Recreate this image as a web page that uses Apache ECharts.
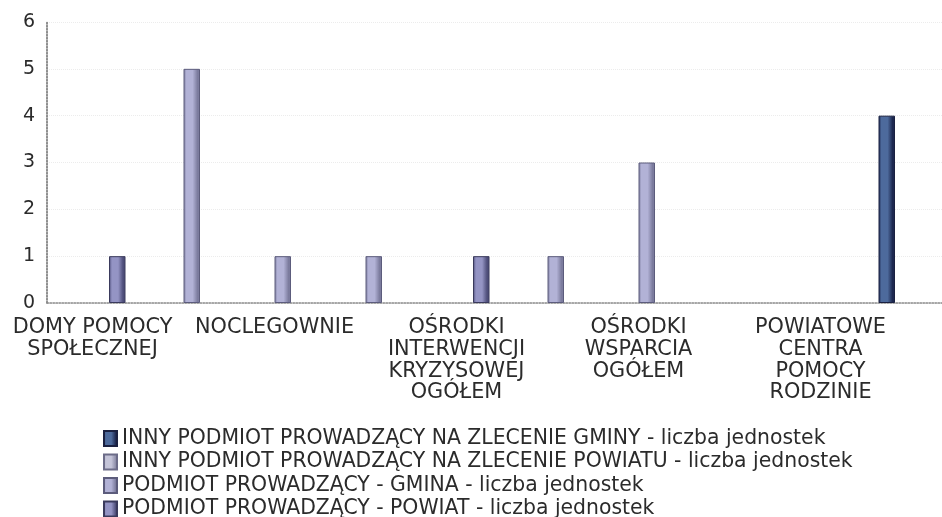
<!DOCTYPE html>
<html>
<head>
<meta charset="utf-8">
<script src="https://cdn.jsdelivr.net/npm/echarts@6/dist/echarts.min.js"></script>
<style>
  html, body { margin: 0; padding: 0; background: #ffffff; }
  #chart { width: 942px; height: 517px; }
</style>
</head>
<body>
<div id="chart"></div>
<script>
// Category slots along the x axis; only every other slot carries a caption.
const categories = [
  'DOMY POMOCY\nSPOŁECZNEJ', '',
  'NOCLEGOWNIE', '',
  'OŚRODKI\nINTERWENCJI\nKRYZYSOWEJ\nOGÓŁEM', '',
  'OŚRODKI\nWSPARCIA\nOGÓŁEM', '',
  'POWIATOWE\nCENTRA\nPOMOCY\nRODZINIE', ''
];

const seriesNames = [
  'INNY PODMIOT PROWADZĄCY NA ZLECENIE GMINY - liczba jednostek',
  'INNY PODMIOT PROWADZĄCY NA ZLECENIE POWIATU - liczba jednostek',
  'PODMIOT PROWADZĄCY - GMINA - liczba jednostek',
  'PODMIOT PROWADZĄCY - POWIAT - liczba jednostek'
];

// Number of units per category ('-' = none)
const innyGminy   = ['-', '-', '-', '-', '-', '-', '-', '-', '-', 4];
const innyPowiatu = ['-', '-', '-', '-', '-', '-', '-', '-', '-', '-'];
const gmina       = ['-', 5, 1, 1, '-', 1, 3, '-', '-', '-'];
const powiat      = [1, '-', '-', '-', 1, '-', '-', '-', '-', '-'];

const yTicks = [0, 1, 2, 3, 4, 5, 6];

function bandFill(edge, mid) {
  return new echarts.graphic.LinearGradient(0, 0, 1, 0, [
    { offset: 0, color: edge },
    { offset: 0.18, color: mid },
    { offset: 0.55, color: mid },
    { offset: 0.85, color: edge },
    { offset: 1, color: edge }
  ]);
}

const palette = [
  { fill: bandFill('#1d2850', '#4d6a9c'), border: '#1a2040' },
  { fill: bandFill('#8d8da8', '#c4c4d8'), border: '#6c6c88' },
  { fill: bandFill('#7c7c9e', '#b2b2d6'), border: '#5c5c7c' },
  { fill: bandFill('#4e4e7a', '#9494c4'), border: '#3a3a5c' }
];

const values = [innyGminy, innyPowiatu, gmina, powiat];

const FONT = 'DejaVu Sans';
const TEXT = '#2b2b2b';

const chart = echarts.init(document.getElementById('chart'), null, { renderer: 'canvas' });

chart.setOption({
  backgroundColor: '#ffffff',
  animation: false,
  textStyle: { fontFamily: FONT },
  // the plot runs past the right edge, so the last slot is cut off
  grid: { left: 47, top: 22, width: 910, height: 281, containLabel: false, outerBoundsMode: 'none' },
  legend: {
    orient: 'vertical',
    left: 103,
    top: 428,
    height: 110,
    padding: 0,
    itemWidth: 13,
    itemHeight: 15,
    itemGap: 2.5,
    icon: 'rect',
    data: seriesNames,
    textStyle: { fontFamily: FONT, fontSize: 20.4, lineHeight: 21, color: TEXT }
  },
  xAxis: {
    type: 'category',
    data: categories,
    axisLine: { show: true, lineStyle: { color: '#8a8a8a', type: 'dotted', width: 1.5 } },
    axisTick: { show: false },
    axisLabel: {
      interval: 0,
      margin: 14,
      fontFamily: FONT,
      fontSize: 20.8,
      lineHeight: 21.7,
      color: TEXT,
      align: 'center'
    },
    splitLine: { show: false }
  },
  yAxis: {
    type: 'value',
    min: yTicks[0],
    max: yTicks[yTicks.length - 1],
    interval: 1,
    axisLine: { show: true, lineStyle: { color: '#6a6a6a', type: 'dotted', width: 1.5 } },
    axisTick: { show: false },
    axisLabel: { margin: 12, fontFamily: FONT, fontSize: 19, color: TEXT },
    splitLine: { show: true, lineStyle: { color: '#ececec', type: 'dotted' } }
  },
  series: seriesNames.map((name, i) => ({
    name: name,
    type: 'bar',
    data: values[i],
    barWidth: 16.5,
    barGap: '0%',
    itemStyle: { color: palette[i].fill, borderColor: palette[i].border, borderWidth: 1 }
  }))
});
</script>
</body>
</html>
